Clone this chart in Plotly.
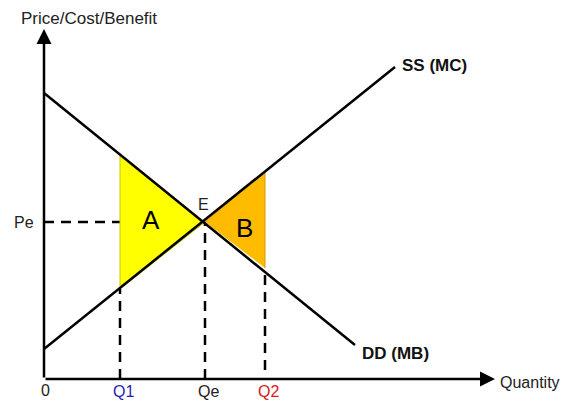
import plotly.graph_objects as go

# Key quantities (arbitrary units)
q_labels = ["Q1", "Qe", "Q2"]
q_values = [3.8, 8.05, 11.05]
q_colors = ["#1f1fb4", "#222222", "#d62020"]
pe_value = 7.85

# Demand (DD/MB) and supply (SS/MC) line endpoints
dd_x = [0, 15.55]
dd_y = [14.3, 1.7]
ss_x = [0, 17.55]
ss_y = [1.5, 15.6]

# Deadweight-loss triangles
area_a_x = [3.8, 3.8, 8.05]
area_a_y = [11.25, 4.5, 7.85]
area_b_x = [8.05, 11.05, 11.05]
area_b_y = [7.85, 10.35, 5.55]

# Dashed guide tops / bottoms
q_tops = [4.5, 7.85, 5.55]
q_bottoms = [0, 0, 0.45]

x_axis_end = 22.55
y_axis_end = 17.5

fig = go.Figure()

# dashed guides (drawn first so the shaded areas cover them)
fig.add_trace(go.Scatter(x=[0, q_values[1]], y=[pe_value, pe_value], mode="lines",
                         line=dict(color="black", width=2.5, dash="10px,7px")))
for qv, top, bot in zip(q_values, q_tops, q_bottoms):
    fig.add_trace(go.Scatter(x=[qv, qv], y=[bot, top], mode="lines",
                             line=dict(color="black", width=2.5, dash="10px,7px")))

fig.add_trace(go.Scatter(x=area_a_x, y=area_a_y, fill="toself", mode="lines",
                         fillcolor="#FFFF00", line=dict(color="#c8c800", width=1),
                         hoverinfo="skip"))
fig.add_trace(go.Scatter(x=area_b_x, y=area_b_y, fill="toself", mode="lines",
                         fillcolor="#FFBB00", line=dict(color="#d89a00", width=1),
                         hoverinfo="skip"))

fig.add_trace(go.Scatter(x=dd_x, y=dd_y, mode="lines", line=dict(color="black", width=2.5)))
fig.add_trace(go.Scatter(x=ss_x, y=ss_y, mode="lines", line=dict(color="black", width=2.5)))

font = "Liberation Sans, Arial, sans-serif"
ann = []
# axes arrows
ann.append(dict(x=0, y=y_axis_end, ax=0, ay=0, xref="x", yref="y", axref="x", ayref="y",
                text="", showarrow=True, arrowhead=2, arrowsize=1.2, arrowwidth=2.5, arrowcolor="black"))
ann.append(dict(x=x_axis_end, y=0, ax=0, ay=0, xref="x", yref="y", axref="x", ayref="y",
                text="", showarrow=True, arrowhead=2, arrowsize=1.2, arrowwidth=2.5, arrowcolor="black"))

ann.append(dict(x=2.25, y=18.05, text="Price/Cost/Benefit", showarrow=False,
                font=dict(family=font, size=17, color="#222")))
ann.append(dict(x=-1.0, y=pe_value, text="Pe", showarrow=False,
                font=dict(family=font, size=16, color="#222")))
ann.append(dict(x=0.05, y=-0.55, text="0", showarrow=False,
                font=dict(family=font, size=16, color="#222")))
for lab, qv, col in zip(q_labels, q_values, q_colors):
    ann.append(dict(x=qv + 0.15, y=-0.6, text=lab, showarrow=False,
                    font=dict(family=font, size=16, color=col)))
ann.append(dict(x=x_axis_end + 0.15, y=-0.15, text="Quantity", showarrow=False, xanchor="left",
                font=dict(family=font, size=16, color="#222")))
ann.append(dict(x=17.8, y=15.7, text="<b>SS (MC)</b>", showarrow=False, xanchor="left",
                font=dict(family=font, size=17, color="#111")))
ann.append(dict(x=15.8, y=1.3, text="<b>DD (MB)</b>", showarrow=False, xanchor="left",
                font=dict(family=font, size=17, color="#111")))
ann.append(dict(x=5.35, y=7.95, text="A", showarrow=False,
                font=dict(family=font, size=26, color="black")))
ann.append(dict(x=10.0, y=7.55, text="B", showarrow=False,
                font=dict(family=font, size=26, color="black")))
ann.append(dict(x=7.95, y=8.75, text="E", showarrow=False,
                font=dict(family=font, size=16, color="#222")))

fig.update_layout(
    width=563, height=401,
    margin=dict(l=0, r=0, t=0, b=0),
    plot_bgcolor="white", paper_bgcolor="white",
    showlegend=False,
    xaxis=dict(range=[-2.2, 25.95], visible=False, fixedrange=True),
    yaxis=dict(range=[-1.1, 18.95], visible=False, fixedrange=True),
    annotations=ann,
)

fig.write_html("out.html", config={"displayModeBar": False},
               post_script="document.body.style.margin='0';document.body.style.overflow='hidden';")
